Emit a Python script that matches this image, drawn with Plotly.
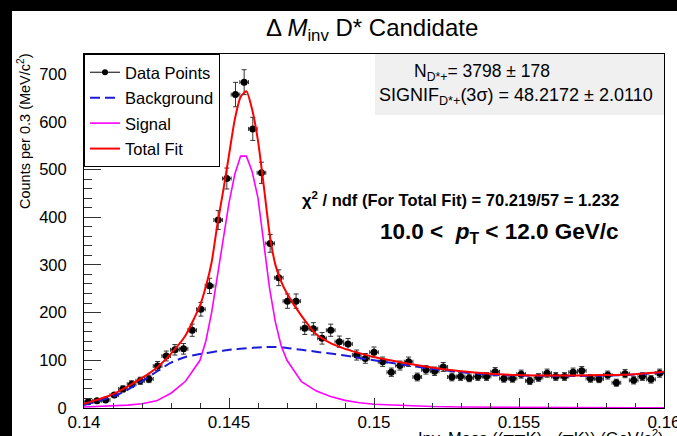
import numpy as np
import plotly.graph_objects as go

# ---------------- data ----------------
x_lo, x_hi, n_bins = 0.14, 0.16, 67
bin_width = (x_hi - x_lo) / n_bins
x_centers = x_lo + bin_width * (np.arange(n_bins) + 0.5)

counts = [13, 15, 17, 27, 40, 50, 57, 61, 88, 109, 122, 124, 163, 207, 256, 394, 481,
          657, 683, 585, 493, 345, 273, 224, 224, 167, 166, 146, 163, 139, 134, 111,
          104, 117, 97, 75, 89, 97, 65, 80, 77, 86, 65, 66, 63, 66, 66, 76, 62, 62,
          71, 57, 64, 73, 66, 66, 75, 78, 62, 61, 69, 53, 72, 58, 66, 60, 73]
count_errors = [3.6, 3.9, 4.1, 5.2, 6.3, 7.1, 7.5, 7.8, 9.4, 10.4, 11.0, 11.1, 12.8, 14.4,
                16.0, 19.8, 21.9, 25.6, 26.1, 24.2, 22.2, 18.6, 16.5, 15.0, 15.0, 12.9,
                12.9, 12.1, 12.8, 11.8, 11.6, 10.5, 10.2, 10.8, 9.8, 8.7, 9.4, 9.8, 8.1,
                8.9, 8.8, 9.3, 8.1, 8.1, 7.9, 8.1, 8.1, 8.7, 7.9, 7.9, 8.4, 7.5, 8.0, 8.5,
                8.1, 8.1, 8.7, 8.8, 7.9, 7.8, 8.3, 7.3, 8.5, 7.6, 8.1, 7.7, 8.5]

curve_x = [0.1400, 0.1405, 0.1410, 0.1415, 0.1420, 0.1425, 0.1430, 0.1435, 0.1440, 0.1442,
           0.1444, 0.1446, 0.1448, 0.1450, 0.1452, 0.1454, 0.1456, 0.1458, 0.1460, 0.1462,
           0.1464, 0.1466, 0.1468, 0.1470, 0.1475, 0.1480, 0.1485, 0.1490, 0.1495, 0.1500,
           0.1510, 0.1520, 0.1530, 0.1540, 0.1550, 0.1560, 0.1570, 0.1580, 0.1590, 0.1600]
background_y = [6, 15, 24, 38, 56, 76, 95, 107, 113, 115,
                117, 119, 120, 122, 123, 124, 125, 126, 127, 127.5,
                128, 128, 127, 126, 122, 118, 114, 110, 105, 100,
                91, 82, 75, 70, 68, 67, 67, 68, 70, 75]
signal_y = [2, 3, 4, 6, 9, 15, 31, 56, 100, 140,
            200, 275, 350, 430, 490, 528, 528, 495, 440, 345,
            250, 180, 130, 100, 55, 36, 24, 16, 11, 8,
            5, 3, 2, 1.5, 1, 1, 0.8, 0.7, 0.6, 0.5]
total_y = [9, 18, 29, 45, 63, 84, 114, 152, 215, 254,
           305, 385, 455, 530, 605, 652, 664, 625, 560, 465,
           365, 300, 265, 240, 193, 155, 136, 124, 115, 107,
           95, 85, 77, 72, 69, 68, 68, 69, 71, 76]

x_tick_vals = [0.14, 0.145, 0.15, 0.155, 0.16]
x_tick_text = ["0.14", "0.145", "0.15", "0.155", "0.16"]
y_tick_vals = [0, 100, 200, 300, 400, 500, 600, 700]

# ---------------- layout helpers ----------------
W, H = 677, 436
L, R, T, B = 84, 664, 54, 408
PW, PH = R - L, B - T


def xp(px):
    return (px - L) / PW


def yp(py):
    return (B - py) / PH


FONT = "Liberation Sans, Arial, Helvetica, sans-serif"

fig = go.Figure()

fig.add_trace(go.Scatter(
    x=x_centers, y=counts, mode="markers",
    marker=dict(color="black", size=7),
    error_y=dict(type="data", array=count_errors, color="#333333", thickness=1, width=2.5),
    error_x=dict(type="constant", value=bin_width / 2, color="#333333", thickness=1, width=2),
    showlegend=False, legendgroup="d",
))
fig.add_trace(go.Scatter(
    x=[None], y=[None], mode="lines+markers", name="Data Points",
    line=dict(color="black", width=1), marker=dict(color="black", size=6),
    legendgroup="d",
))
fig.add_trace(go.Scatter(
    x=curve_x, y=background_y, mode="lines", name="Background",
    line=dict(color="#1c1cd8", width=2, dash="10px,5px", shape="spline", smoothing=0.6),
    legendgroup="b",
))
fig.add_trace(go.Scatter(
    x=curve_x, y=signal_y, mode="lines", name="Signal",
    line=dict(color="#ff00ff", width=1.6),
    legendgroup="s",
))
fig.add_trace(go.Scatter(
    x=curve_x, y=total_y, mode="lines", name="Total Fit",
    line=dict(color="#ff0000", width=2, shape="spline", smoothing=0.6),
    legendgroup="t",
))

shapes = [
    # ROOT stats box
    dict(type="rect", xref="paper", yref="paper", x0=xp(375), x1=xp(664), y0=yp(115), y1=yp(54),
         fillcolor="#f0f0f0", line=dict(width=0), layer="below"),
    # black screen borders
    dict(type="rect", xref="paper", yref="paper", x0=xp(0), x1=xp(12), y0=yp(436), y1=yp(0),
         fillcolor="black", line=dict(width=0), layer="above"),
    dict(type="rect", xref="paper", yref="paper", x0=xp(0), x1=xp(677), y0=yp(11), y1=yp(0),
         fillcolor="black", line=dict(width=0), layer="above"),
]

annotations = [
    dict(text="Δ <i>M</i><sub>inv</sub> D* Candidate", x=xp(372), y=yp(30), xref="paper", yref="paper",
         showarrow=False, xanchor="center", yanchor="middle", font=dict(size=24, color="black", family=FONT)),
    dict(text="Counts per 0.3 (MeV/c<sup>2</sup>)", x=xp(24), y=yp(131), xref="paper", yref="paper",
         showarrow=False, textangle=-90, xanchor="center", yanchor="middle",
         font=dict(size=14.5, color="black", family=FONT)),
    dict(text="Inv. Mass ((ππK) - (πK)) (GeV/c<sup>2</sup>)", x=xp(666), y=yp(425), xref="paper", yref="paper",
         showarrow=False, xanchor="right", yanchor="top", font=dict(size=16.5, color="black", family=FONT)),
    dict(text="N<sub>D*+</sub>= 3798 ± 178", x=xp(412), y=yp(72), xref="paper", yref="paper",
         showarrow=False, xanchor="left", yanchor="middle", font=dict(size=17.5, color="black", family=FONT)),
    dict(text="SIGNIF<sub>D*+</sub>(3σ) = 48.2172 ± 2.0110", x=xp(377), y=yp(96), xref="paper", yref="paper",
         showarrow=False, xanchor="left", yanchor="middle", font=dict(size=18, color="black", family=FONT)),
    dict(text="<b>χ<sup>2</sup> / ndf (For Total Fit) = 70.219/57 = 1.232</b>", x=xp(460), y=yp(199),
         xref="paper", yref="paper", showarrow=False, xanchor="center", yanchor="middle",
         font=dict(size=16.5, color="black", family=FONT)),
    dict(text="<b>10.0 <  <i>p</i><sub>T</sub> < 12.0 GeV/c</b>", x=xp(499), y=yp(233),
         xref="paper", yref="paper", showarrow=False, xanchor="center", yanchor="middle",
         font=dict(size=22.5, color="black", family=FONT)),
]

fig.update_layout(
    width=W, height=H,
    margin=dict(l=L, r=W - R, t=T, b=H - B, pad=0, autoexpand=False),
    paper_bgcolor="white", plot_bgcolor="white",
    font=dict(family=FONT, color="black"),
    shapes=shapes, annotations=annotations,
    legend=dict(x=0, y=1, xanchor="left", yanchor="top", bgcolor="white",
                bordercolor="black", borderwidth=1, font=dict(size=16.5, family=FONT),
                itemwidth=30, traceorder="grouped", tracegroupgap=1),
)

fig.update_xaxes(
    range=[x_lo, x_hi + 1e-7], tickvals=x_tick_vals, ticktext=x_tick_text,
    ticks="inside", ticklen=10, tickcolor="#333", tickwidth=1,
    minor=dict(ticks="inside", ticklen=5, dtick=0.001, tick0=0.14, tickcolor="#333", showgrid=False),
    showline=True, linecolor="black", linewidth=1, mirror=True,
    showgrid=False, zeroline=False, tickfont=dict(size=17, color="black", family=FONT),
    ticklabeloverflow="allow", ticklabelstandoff=-1, automargin=False,
)
fig.update_yaxes(
    range=[0, 742], tickvals=y_tick_vals,
    ticks="inside", ticklen=17, tickcolor="#333", tickwidth=1,
    minor=dict(ticks="inside", ticklen=8, dtick=20, tick0=0, tickcolor="#333", showgrid=False),
    showline=True, linecolor="black", linewidth=1, mirror=True,
    showgrid=False, zeroline=False, tickfont=dict(size=16.5, color="black", family=FONT),
    ticklabelstandoff=13, automargin=False,
)

fig.write_html("out.html")
